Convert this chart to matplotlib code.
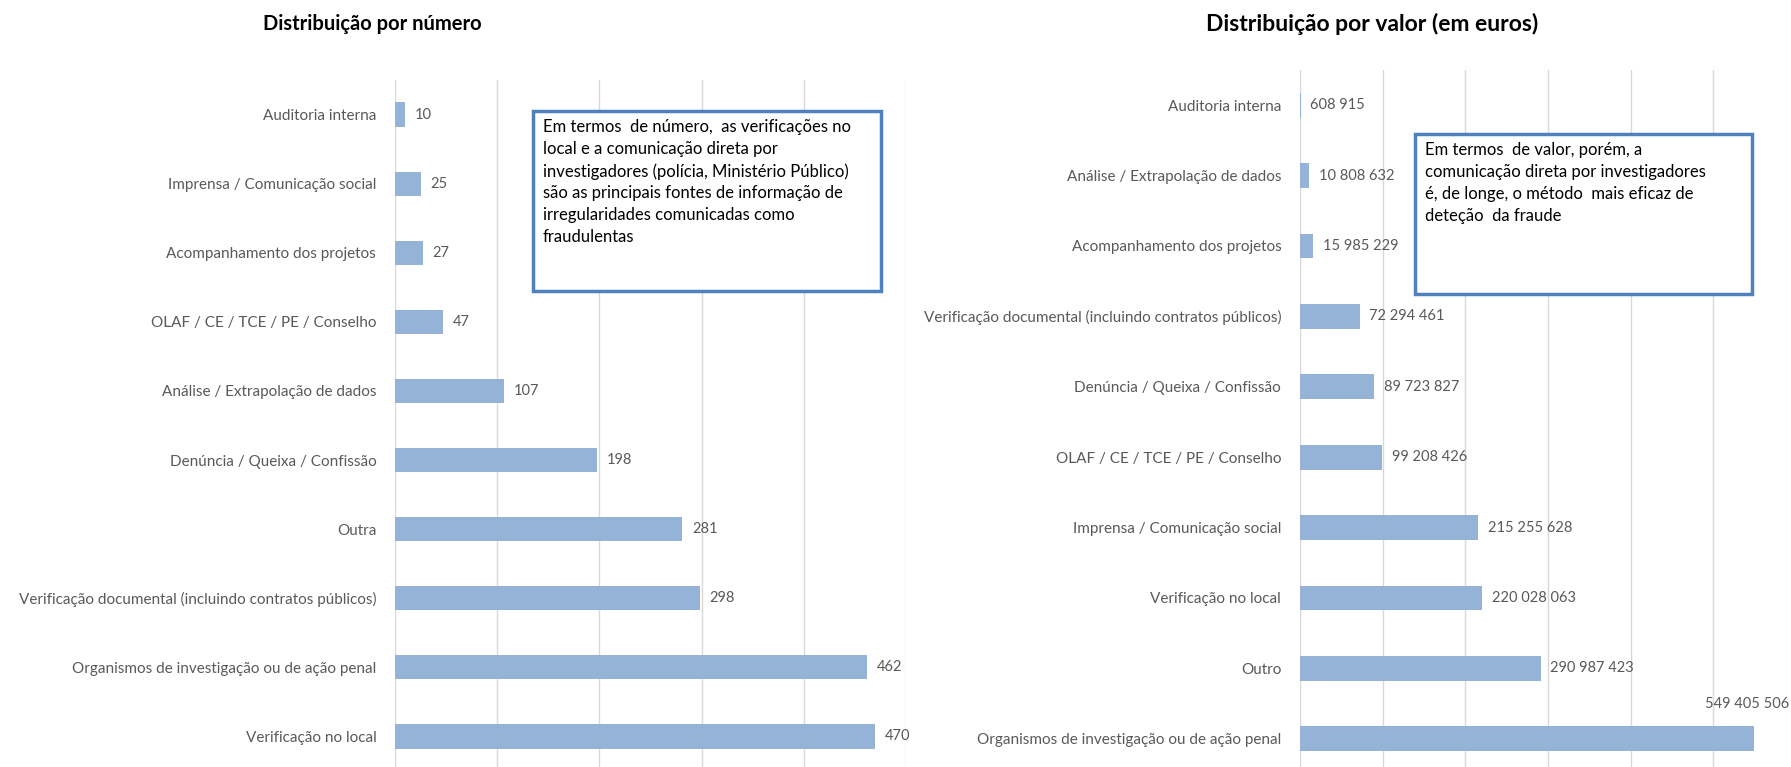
import matplotlib.pyplot as plt
import numpy as np

# dados - distribuição por número
cat_num = ['Auditoria interna', 'Imprensa / Comunicação social', 'Acompanhamento dos projetos',
           'OLAF / CE / TCE / PE / Conselho', 'Análise / Extrapolação de dados',
           'Denúncia / Queixa / Confissão', 'Outra',
           'Verificação documental (incluindo contratos públicos)',
           'Organismos de investigação ou de ação penal', 'Verificação no local']
val_num = [10, 25, 27, 47, 107, 198, 281, 298, 462, 470]

# dados - distribuição por valor (em euros)
cat_val = ['Auditoria interna', 'Análise / Extrapolação de dados', 'Acompanhamento dos projetos',
           'Verificação documental (incluindo contratos públicos)',
           'Denúncia / Queixa / Confissão', 'OLAF / CE / TCE / PE / Conselho',
           'Imprensa / Comunicação social', 'Verificação no local', 'Outro',
           'Organismos de investigação ou de ação penal']
val_val = [608915, 10808632, 15985229, 72294461, 89723827, 99208426,
           215255628, 220028063, 290987423, 549405506]

titulo_num = 'Distribuição por número'
titulo_val = 'Distribuição por valor (em euros)'
nota_num = ('Em termos  de número,  as verificações no\nlocal e a comunicação direta por\n'
            'investigadores (polícia, Ministério Público)\nsão as principais fontes de informação de\n'
            'irregularidades comunicadas como\nfraudulentas')
nota_val = ('Em termos  de valor, porém, a\ncomunicação direta por investigadores\n'
            'é, de longe, o método  mais eficaz de\ndeteção  da fraude')

plt.rcParams['font.family'] = ['Lato', 'DejaVu Sans']

W, H = 1791, 767
fig = plt.figure(figsize=(W / 100, H / 100), dpi=100)

bar_color = '#95B3D7'
grid_color = '#D9D9D9'
txt_color = '#595959'
fs_cat = 11
fs_val = 10.5


def fmt(v):
    return f'{v:,}'.replace(',', ' ')


def draw(ax, cats, vals, xmax, step):
    y = np.arange(len(cats))
    ax.barh(y, vals, height=0.35, color=bar_color, zorder=3)
    ax.set_yticks(y)
    ax.set_yticklabels(cats, fontsize=fs_cat, color=txt_color)
    ax.set_ylim(len(cats) - 0.5, -0.5)
    ax.set_xlim(0, xmax)
    ax.set_xticks(np.arange(0, xmax + 1, step))
    ax.tick_params(axis='x', bottom=False, labelbottom=False)
    ax.tick_params(axis='y', left=False, pad=10)
    ax.grid(axis='x', color=grid_color, linewidth=1, zorder=0)
    for s in ax.spines.values():
        s.set_visible(False)


# gráfico da esquerda
ax1 = fig.add_axes([395 / W, -4 / H, (906 - 395) / W, (767 - 80 + 4) / H])
draw(ax1, cat_num, val_num, 500, 100)
for i, v in enumerate(val_num):
    ax1.annotate(str(v), (v, i), xytext=(7, 0), textcoords='offset points',
                 va='center', ha='left', fontsize=fs_val, color=txt_color)

# gráfico da direita
ax2 = fig.add_axes([1300 / W, -7 / H, (1796 - 1300) / W, (767 - 70 + 7) / H])
draw(ax2, cat_val, val_val, 600e6, 100e6)
for i, v in enumerate(val_val):
    if v > 500e6:
        ax2.annotate(fmt(v), (v, i), xytext=(25, 20), textcoords='offset points',
                     va='bottom', ha='right', fontsize=fs_val, color=txt_color)
    else:
        ax2.annotate(fmt(v), (v, i), xytext=(7, 0), textcoords='offset points',
                     va='center', ha='left', fontsize=fs_val, color=txt_color)

# títulos
fig.text(372 / W, 1 - 24 / H, titulo_num, ha='center', va='center', fontsize=14.5, fontweight='bold')
fig.text(1372 / W, 1 - 24 / H, titulo_val, ha='center', va='center', fontsize=16.5, fontweight='bold')

# caixas de texto
for (x0, y0, x1, y1), nota in [((533, 111, 881, 291), nota_num), ((1415, 134, 1752, 294), nota_val)]:
    rect = plt.Rectangle((x0 / W, 1 - y1 / H), (x1 - x0) / W, (y1 - y0) / H,
                         transform=fig.transFigure, facecolor='white',
                         edgecolor='#4F81BD', linewidth=2.5, zorder=5)
    fig.add_artist(rect)
    fig.text((x0 + 10) / W, 1 - (y0 + 8) / H, nota, ha='left', va='top',
             fontsize=12, color='black', linespacing=1.45, zorder=6)

fig.savefig('out.png', dpi=100)
